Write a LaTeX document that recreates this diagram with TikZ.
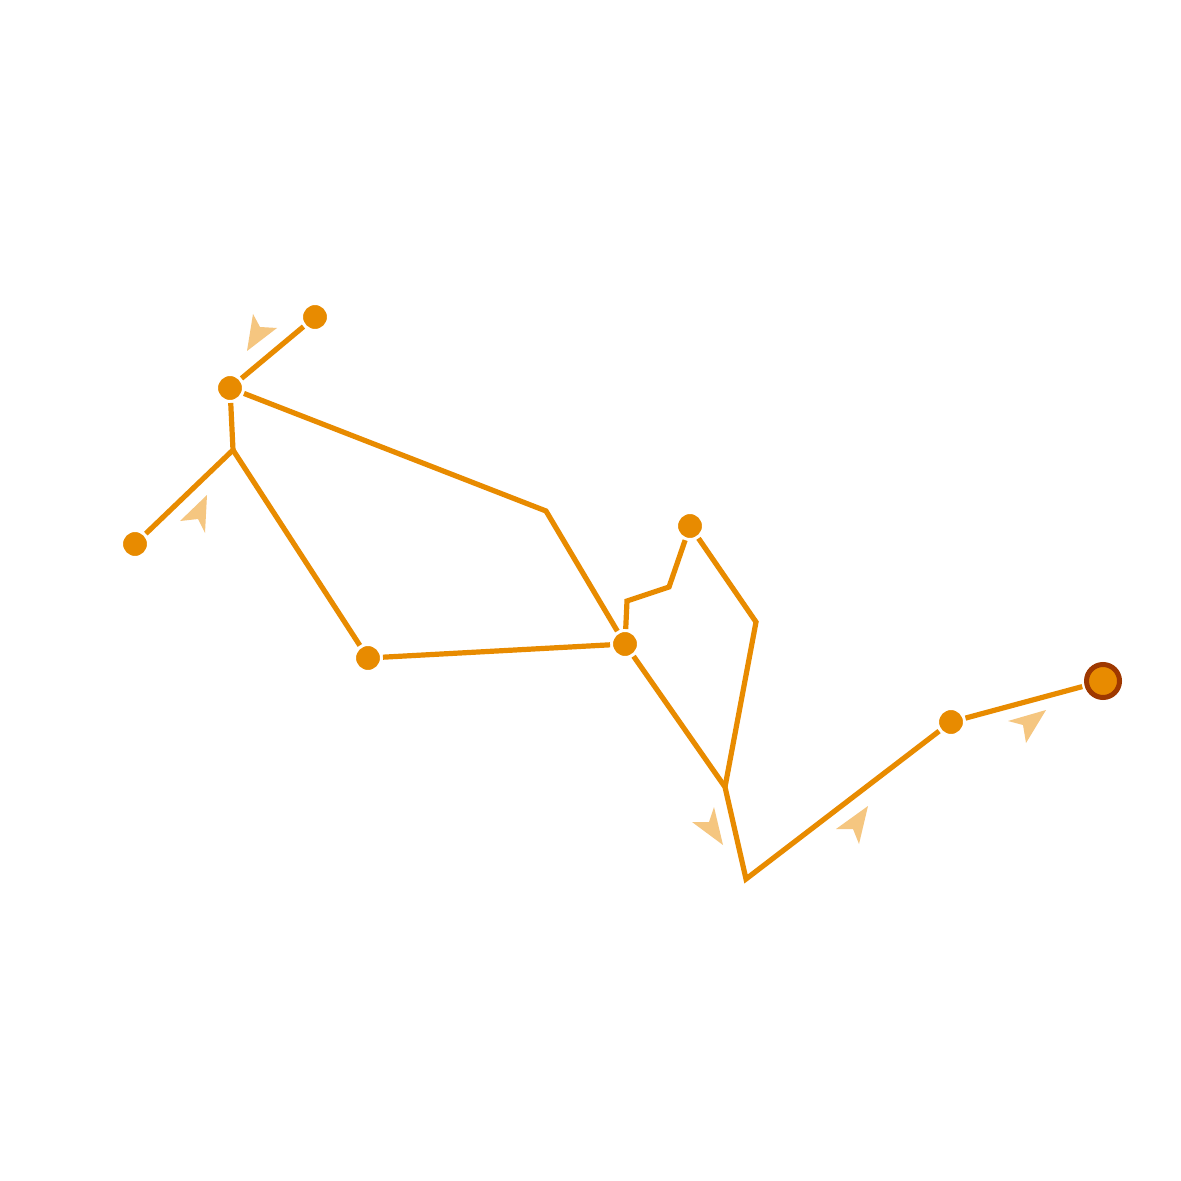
\documentclass[tikz,border=0pt]{standalone}
\definecolor{routeorange}{RGB}{232,139,0}
\definecolor{arrowlight}{RGB}{245,198,128}
\definecolor{endbrown}{RGB}{158,56,0}
\begin{document}
\begin{tikzpicture}[x=0.5pt,y=-0.5pt,
  dot/.style={circle,fill=routeorange,draw=white,line width=1.5pt,minimum size=13.5pt,inner sep=0pt,outer sep=0.75pt},
  enddot/.style={circle,fill=routeorange,draw=endbrown,line width=2.5pt,minimum size=16.5pt,inner sep=0pt,outer sep=2.5pt},
  route/.style={draw=routeorange,line width=2.6pt},
  hint/.style={fill=arrowlight}]
\useasboundingbox[fill=white] (0,0) rectangle (1181,1181);
% corners
\coordinate (c1) at (233,450);
\coordinate (c2) at (546,511);
\coordinate (c3) at (627,601);
\coordinate (c4) at (669,587);
\coordinate (c5) at (756,622);
\coordinate (c6) at (725,787);
\coordinate (c7) at (746,879);
% stops
\node[dot] (n1) at (315,317) {};
\node[dot] (n2) at (230,388) {};
\node[dot] (n3) at (135,544) {};
\node[dot] (n4) at (368,658) {};
\node[dot] (n5) at (625,644) {};
\node[dot] (n6) at (690,526) {};
\node[dot] (n7) at (951,722) {};
\node[enddot] (n8) at (1103,681) {};
% connectors
\draw[route] (n1) -- (n2);
\draw[route] (n2) -- (c1) -- (n3);
\draw[route] (c1) -- (n4);
\draw[route] (n4) -- (n5);
\draw[route] (n2) -- (c2) -- (n5);
\draw[route] (n5) -- (c3) -- (c4) -- (n6);
\draw[route] (n6) -- (c5) -- (c6);
\draw[route] (n5) -- (c6) -- (c7) -- (n7);
\draw[route] (n7) -- (n8);
% direction hints
\fill[hint] (247,351) -- (253,314) -- (260,327) -- (277,328) -- cycle;
\fill[hint] (207,495) -- (205,533) -- (198,519) -- (180,521) -- cycle;
\fill[hint] (723,845) -- (692,822) -- (709,822) -- (714,807) -- cycle;
\fill[hint] (868,806) -- (859,844) -- (853,829) -- (836,829) -- cycle;
\fill[hint] (1046,710) -- (1026,743) -- (1023,725) -- (1008,721) -- cycle;
\end{tikzpicture}
\end{document}
